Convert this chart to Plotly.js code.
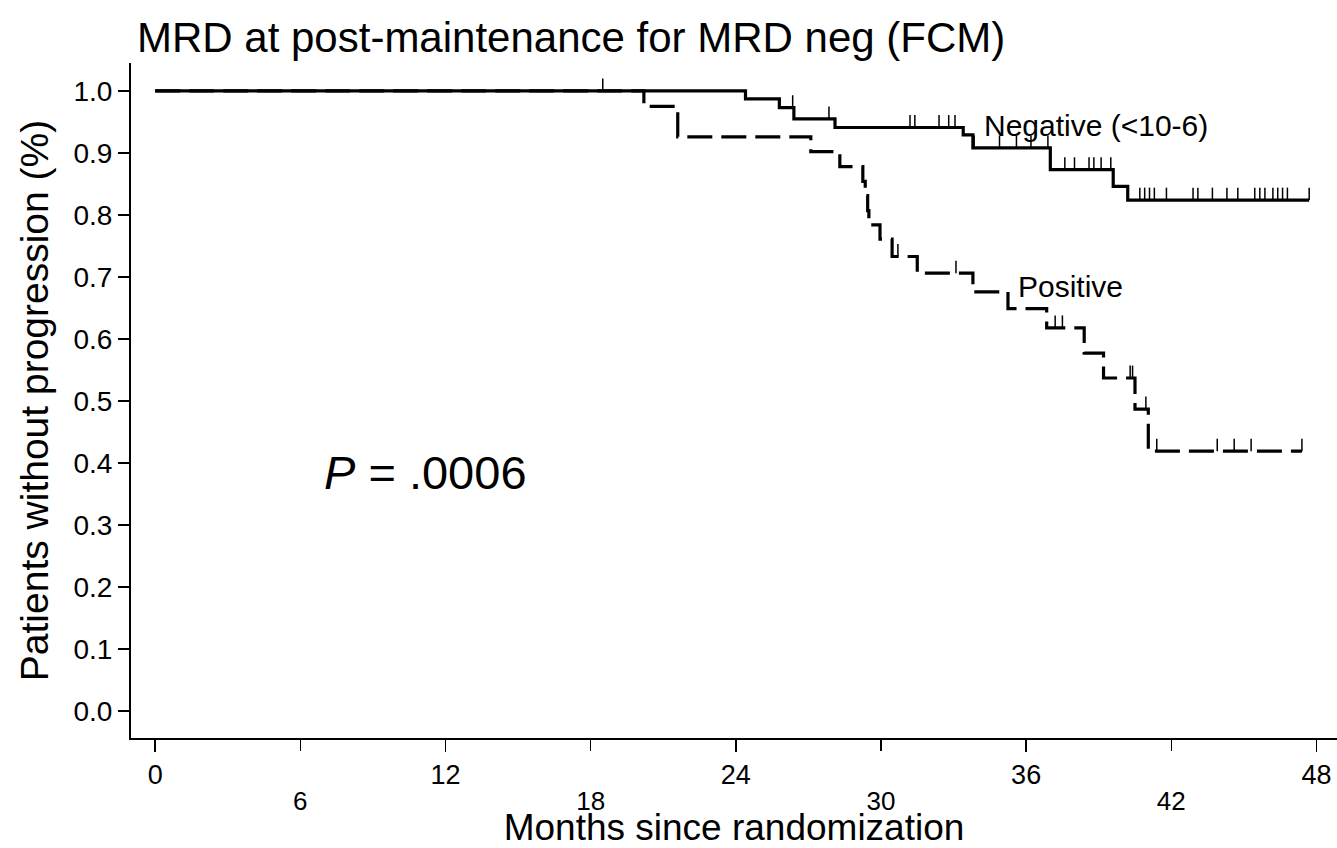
<!DOCTYPE html>
<html>
<head>
<meta charset="utf-8">
<script src="https://cdn.plot.ly/plotly-3.0.1.min.js"></script>
<style>html,body{margin:0;padding:0;background:#fff;}#chart{width:1337px;height:848px;}</style>
</head>
<body>
<div id="chart"></div>
<script>
// Negative (<10-6): step curve (event times, survival after event)
const negTimes = [0, 24.4, 25.8, 26.4, 28.1, 33.4, 33.8, 37.0, 39.6, 40.2];
const negSurv  = [1.0, 0.987, 0.973, 0.955, 0.941, 0.929, 0.908, 0.873, 0.846, 0.824];
const negEnd = 47.7;
const negCensor = [18.5, 26.35, 27.85, 31.2, 31.4, 32.4, 32.8, 33.06, 33.85, 34.9, 35.6, 36.2, 36.9,
  37.6, 38.0, 38.6, 38.8, 39.1, 39.5, 40.7, 40.9, 41.1, 41.3, 41.8, 42.9, 43.1, 43.7, 44.3, 44.75,
  45.45, 45.66, 45.87, 46.2, 46.4, 46.6, 46.8, 47.7];

// Positive
const posTimes = [0, 20.2, 21.6, 27.1, 28.3, 29.25, 29.35, 29.45, 29.5, 29.96, 30.46, 31.5, 33.8, 35.25, 36.85, 38.4, 39.2, 40.5, 41.05];
const posSurv  = [1.0, 0.975, 0.926, 0.902, 0.878, 0.854, 0.831, 0.807, 0.784, 0.761, 0.733, 0.706, 0.676, 0.649, 0.618, 0.577, 0.537, 0.487, 0.419];
const posEnd = 47.4;
const posCensor = [30.7, 33.1, 37.2, 37.5, 40.3, 40.4, 40.95, 41.4, 43.9, 44.6, 45.3, 47.4];

const xTickValsUpper = [0, 12, 24, 36, 48];
const xTickValsLower = [6, 18, 30, 42];
const yTickVals = [0, 0.1, 0.2, 0.3, 0.4, 0.5, 0.6, 0.7, 0.8, 0.9, 1.0];

function survAt(times, surv, t) {
  let s = surv[0];
  for (let i = 0; i < times.length; i++) { if (times[i] <= t) s = surv[i]; }
  return s;
}
function censorTrace(cens, times, surv) {
  const x = [], y = [];
  cens.forEach(t => { const s = survAt(times, surv, t); x.push(t, t, null); y.push(s, s + 0.02, null); });
  return {x, y, mode: 'lines', line: {color: '#000', width: 1.5}, hoverinfo: 'skip', showlegend: false};
}

const FONT = 'Liberation Sans, Arial, Helvetica, sans-serif';
const traces = [
  {x: negTimes.concat([negEnd]), y: negSurv.concat([negSurv[negSurv.length - 1]]), mode: 'lines',
   line: {shape: 'hv', color: '#000', width: 3.2}, showlegend: false, name: 'Negative (<10-6)'},
  {x: posTimes.concat([posEnd]), y: posSurv.concat([posSurv[posSurv.length - 1]]), mode: 'lines',
   line: {shape: 'hv', color: '#000', width: 3.2, dash: '25px,9px'}, showlegend: false, name: 'Positive'},
  censorTrace(negCensor, negTimes, negSurv),
  censorTrace(posCensor, posTimes, posSurv),
  // invisible trace so the second (lower-row) x axis is drawn
  {x: [0], y: [0], xaxis: 'x2', yaxis: 'y', mode: 'markers', marker: {opacity: 0}, hoverinfo: 'skip', showlegend: false}
];

const axisCommon = {
  range: [-1, 48.85], showgrid: false, zeroline: false, linecolor: '#000',
  ticks: 'outside', ticklen: 12, tickwidth: 1.5, tickcolor: '#000', automargin: false
};

const layout = {
  width: 1337, height: 848,
  margin: {l: 131, r: 0, t: 63, b: 110},
  paper_bgcolor: '#fff', plot_bgcolor: '#fff',
  font: {family: FONT, color: '#000', size: 27},
  title: {text: 'MRD at post-maintenance for MRD neg (FCM)', font: {size: 42, family: FONT, color: '#000'},
          xref: 'container', x: 137 / 1337, xanchor: 'left', yref: 'container', y: 1 - 37 / 848, yanchor: 'middle'},
  xaxis: Object.assign({}, axisCommon, {
    showline: true, linewidth: 2,
    tickvals: xTickValsUpper, tickfont: {size: 27},
    title: {text: 'Months since randomization', font: {size: 37}, standoff: 33}
  }),
  xaxis2: Object.assign({}, axisCommon, {
    overlaying: 'x', matches: 'x', anchor: 'y', side: 'bottom', showline: false,
    tickvals: xTickValsLower, tickfont: {size: 26}, ticklabelstandoff: 28
  }),
  yaxis: {
    range: [-0.0435, 1.045], showgrid: false, zeroline: false, showline: true, linewidth: 2, linecolor: '#000',
    ticks: 'outside', ticklen: 11, tickwidth: 1.5, tickcolor: '#000',
    tickvals: yTickVals, tickformat: '.1f', tickfont: {size: 28}, automargin: false,
    title: {text: 'Patients without progression (%)', font: {size: 39}, standoff: 13}
  },
  annotations: [
    {x: 34.17, y: 0.945, xref: 'x', yref: 'y', text: 'Negative (<10-6)', showarrow: false, xanchor: 'left', yanchor: 'middle', font: {size: 30}},
    {x: 35.6, y: 0.684, xref: 'x', yref: 'y', text: 'Positive', showarrow: false, xanchor: 'left', yanchor: 'middle', font: {size: 30}},
    {x: 6.9, y: 0.385, xref: 'x', yref: 'y', text: '<i>P</i> = .0006', showarrow: false, xanchor: 'left', yanchor: 'middle', font: {size: 47}}
  ]
};

Plotly.newPlot('chart', traces, layout, {displayModeBar: false, staticPlot: true});
</script>
</body>
</html>
